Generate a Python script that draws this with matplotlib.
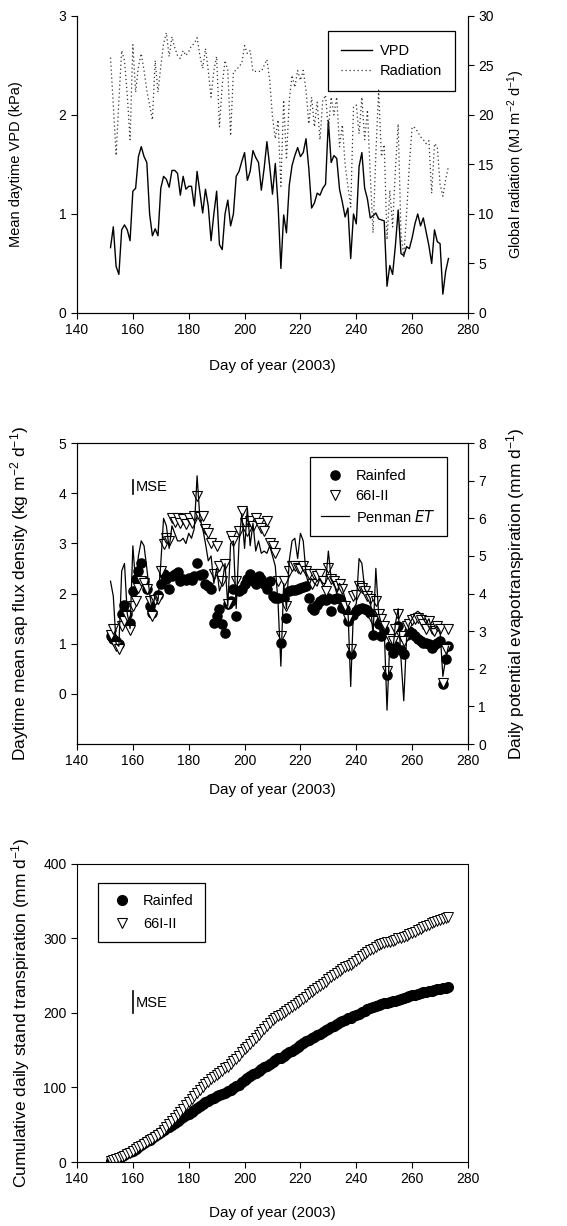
import numpy as np
import matplotlib
matplotlib.use("Agg")
import matplotlib.pyplot as plt
from matplotlib.lines import Line2D

plt.rcParams['font.family'] = ['Liberation Sans', 'DejaVu Sans']
plt.rcParams['font.size'] = 10
plt.rcParams['mathtext.default'] = 'regular'

# day of year, 1 June - 30 Sept 2003
days = np.arange(152, 274)

# panel a: mean daytime VPD (kPa) and global radiation (MJ m-2 d-1)
vpd = [0.66, 0.87, 0.47, 0.39, 0.84, 0.89, 0.84, 0.73, 1.23, 1.26,
       1.58, 1.68, 1.58, 1.52, 1.00, 0.78, 0.85, 0.78, 1.26, 1.38,
       1.35, 1.27, 1.44, 1.44, 1.41, 1.19, 1.38, 1.25, 1.28, 1.28,
       1.08, 1.43, 1.22, 1.01, 1.25, 1.08, 0.73, 1.00, 1.23, 0.69,
       0.64, 1.00, 1.14, 0.88, 1.00, 1.38, 1.43, 1.53, 1.62, 1.34,
       1.43, 1.64, 1.57, 1.52, 1.24, 1.46, 1.73, 1.48, 1.20, 1.51,
       1.09, 0.45, 0.99, 0.81, 1.29, 1.49, 1.59, 1.67, 1.58, 1.62,
       1.76, 1.46, 1.06, 1.11, 1.21, 1.19, 1.26, 1.30, 1.94, 1.52,
       1.59, 1.56, 1.25, 1.12, 0.97, 1.06, 0.55, 1.00, 0.90, 1.48,
       1.62, 1.26, 1.15, 0.96, 0.98, 1.01, 0.95, 0.94, 0.93, 0.27,
       0.48, 0.39, 0.68, 1.04, 0.60, 0.58, 0.67, 0.65, 0.76, 0.90,
       1.00, 0.88, 0.96, 0.82, 0.68, 0.50, 0.84, 0.72, 0.70, 0.19,
       0.42, 0.55]
radiation = [25.8, 21.0, 15.9, 21.5, 26.5, 25.5, 22.0, 17.5, 27.1, 22.3,
             24.9, 26.2, 24.5, 22.5, 21.0, 19.5, 25.5, 22.3, 24.9, 27.2,
             28.3, 25.9, 27.9, 26.8, 26.0, 25.7, 26.5, 26.0, 26.4, 27.0,
             27.2, 27.8, 26.0, 24.7, 26.7, 24.5, 21.8, 24.5, 25.9, 18.8,
             23.0, 25.5, 24.5, 17.9, 24.4, 24.5, 24.9, 25.2, 27.0, 26.2,
             26.5, 24.4, 24.4, 24.4, 24.4, 25.0, 25.6, 23.5, 19.8, 17.6,
             19.5, 12.8, 21.5, 15.5, 21.5, 24.0, 22.8, 24.5, 23.5, 24.5,
             22.5, 19.1, 21.8, 18.8, 21.3, 17.5, 21.5, 22.0, 18.5, 21.8,
             20.0, 21.8, 16.8, 19.0, 15.0, 12.8, 10.7, 20.8, 21.0, 18.1,
             21.8, 17.5, 20.5, 14.0, 8.1, 16.0, 22.5, 15.8, 17.0, 7.4,
             12.4, 8.7, 14.5, 19.1, 8.0, 5.7, 10.0, 15.0, 18.8, 18.7,
             18.3, 17.8, 17.5, 17.1, 17.4, 12.1, 17.1, 16.8, 13.0, 11.8,
             13.5, 14.8]

# panel b: daytime mean sap flux density (kg m-2 d-1) and Penman ET (mm d-1)
rainfed = [1.16, 1.10, 1.05, 1.00, 1.60, 1.78, 1.60, 1.42, 2.05, 2.30,
           2.45, 2.60, 2.25, 2.10, 1.75, 1.62, 1.90, 1.97, 2.20, 2.40,
           2.30, 2.10, 2.35, 2.40, 2.42, 2.25, 2.30, 2.28, 2.32, 2.28,
           2.36, 2.60, 2.38, 2.40, 2.20, 2.15, 2.10, 1.42, 1.55, 1.70,
           1.40, 1.22, 1.80, 1.85, 2.10, 1.55, 2.05, 2.10, 2.20, 2.30,
           2.40, 2.25, 2.20, 2.35, 2.30, 2.20, 2.10, 2.25, 1.95, 1.92,
           1.92, 1.02, 1.92, 1.52, 2.05, 2.07, 2.08, 2.10, 2.12, 2.14,
           2.16, 1.92, 1.72, 1.68, 1.78, 1.85, 1.90, 1.88, 1.92, 1.65,
           1.90, 1.92, 1.90, 1.72, 1.70, 1.45, 0.80, 1.58, 1.65, 1.70,
           1.72, 1.70, 1.68, 1.62, 1.18, 1.50, 1.40, 1.15, 1.28, 0.37,
           0.95, 0.82, 0.95, 1.35, 0.88, 0.80, 1.18, 1.25, 1.22, 1.15,
           1.10, 1.05, 1.02, 1.02, 1.00, 0.92, 0.97, 1.02, 1.05, 0.20,
           0.70, 0.96]
irrigated = [1.18, 1.30, 0.95, 0.90, 1.35, 1.45, 1.55, 1.27, 1.75, 1.85,
             2.12, 2.25, 2.22, 2.10, 1.85, 1.55, 1.88, 1.90, 2.45, 2.98,
             3.10, 3.05, 3.50, 3.42, 3.50, 3.40, 3.48, 3.38, 3.50, 3.40,
             3.55, 3.95, 3.52, 3.55, 3.28, 3.20, 3.00, 2.40, 2.95, 2.55,
             2.25, 2.58, 1.80, 3.15, 3.05, 2.25, 3.25, 3.65, 3.40, 3.25,
             3.45, 3.35, 3.50, 3.40, 3.30, 3.25, 3.45, 3.00, 2.95, 2.80,
             2.25, 1.15, 2.25, 1.75, 2.45, 2.55, 2.55, 2.50, 2.48, 2.55,
             2.45, 2.40, 2.20, 2.40, 2.35, 2.40, 2.25, 2.05, 2.50, 2.30,
             2.25, 2.15, 2.20, 2.10, 1.75, 1.50, 0.90, 1.95, 1.98, 2.15,
             2.12, 2.05, 1.95, 1.90, 1.45, 1.85, 1.60, 1.50, 1.35, 0.45,
             1.10, 1.05, 1.30, 1.60, 1.15, 1.05, 1.35, 1.40, 1.48, 1.50,
             1.52, 1.48, 1.40, 1.30, 1.45, 1.30, 1.25, 1.35, 1.30, 0.22,
             0.90, 1.30]
penman = [4.33, 3.93, 2.67, 2.60, 4.60, 4.80, 3.47, 3.07, 5.27, 4.27,
          5.00, 5.40, 5.27, 4.67, 4.00, 3.53, 4.00, 3.80, 4.80, 6.00,
          5.80, 5.20, 5.80, 5.60, 5.40, 5.40, 5.47, 5.33, 5.60, 5.47,
          5.73, 7.13, 6.00, 5.73, 5.33, 4.87, 5.00, 4.27, 4.67, 4.07,
          4.27, 4.80, 3.67, 5.33, 5.40, 3.60, 5.33, 6.13, 5.20, 6.27,
          5.27, 5.87, 5.13, 5.40, 5.07, 5.13, 5.07, 5.27, 5.00, 4.73,
          3.73, 2.07, 4.27, 3.60, 4.87, 5.40, 5.47, 4.93, 5.60, 5.40,
          4.53, 4.20, 4.40, 4.27, 4.20, 4.40, 4.27, 4.27, 5.13, 4.40,
          4.27, 4.00, 4.27, 4.13, 3.87, 3.60, 1.53, 3.60, 3.73, 4.93,
          4.80, 4.13, 4.00, 3.87, 2.87, 4.67, 3.47, 3.20, 3.07, 0.90,
          2.67, 2.40, 3.20, 3.60, 2.27, 1.15, 2.80, 3.20, 3.33, 3.47,
          3.53, 3.47, 3.33, 3.20, 3.33, 3.07, 3.07, 3.13, 3.00, 1.80,
          2.27, 2.60]

# panel c: cumulative daily stand transpiration (mm)
cum_rainfed = [1.0, 2.5, 4.0, 5.5, 7.5, 9.5, 11.5, 13.2, 15.0, 17.5,
               20.0, 22.8, 25.5, 28.0, 30.0, 32.0, 34.5, 37.0, 40.0, 42.5,
               45.0, 47.5, 50.0, 52.5, 55.0, 57.5, 60.0, 62.5, 65.0, 67.5,
               70.0, 72.8, 75.5, 78.0, 80.5, 82.5, 84.5, 86.0, 88.0, 90.0,
               91.5, 93.0, 95.0, 97.0, 99.5, 101.5, 104.0, 107.0, 110.0, 112.5,
               115.0, 117.5, 120.0, 122.5, 125.0, 127.5, 129.5, 132.0, 134.0, 136.5,
               139.0, 140.2, 142.7, 144.5, 147.0, 149.5, 152.0, 154.5, 157.0, 159.5,
               162.0, 164.0, 166.0, 168.0, 170.0, 172.2, 174.4, 176.6, 178.8, 180.8,
               183.0, 185.2, 187.4, 189.3, 191.2, 192.8, 193.7, 195.5, 197.3, 199.2,
               201.0, 202.9, 204.7, 206.5, 207.8, 209.4, 210.8, 212.0, 213.3, 213.7,
               214.7, 215.6, 216.6, 218.0, 218.9, 219.7, 221.0, 222.3, 223.6, 224.6,
               225.6, 226.6, 227.5, 228.4, 229.3, 230.1, 231.0, 231.9, 232.8, 233.0,
               233.6, 234.3]
cum_irrigated = [1.0, 2.5, 3.8, 5.1, 6.8, 8.6, 10.6, 12.5, 14.8, 17.0,
                 19.5, 22.0, 24.5, 27.0, 29.0, 31.0, 33.5, 36.0, 39.0, 42.5,
                 46.5, 50.5, 54.8, 59.0, 63.2, 67.5, 71.8, 76.0, 80.5, 84.5,
                 88.5, 93.0, 97.0, 101.0, 104.5, 108.0, 111.0, 113.5, 116.5, 119.5,
                 122.0, 125.5, 128.0, 132.0, 135.5, 138.5, 142.5, 147.0, 151.0, 155.0,
                 159.0, 163.0, 167.0, 171.0, 175.0, 179.0, 183.0, 187.0, 190.5, 193.5,
                 196.0, 197.5, 200.0, 202.0, 204.8, 207.6, 210.4, 213.2, 216.0, 219.0,
                 222.0, 225.0, 227.8, 230.8, 233.6, 236.6, 239.2, 242.2, 245.0, 248.0,
                 250.8, 253.6, 256.4, 259.0, 261.4, 263.4, 264.8, 267.4, 270.0, 273.0,
                 276.0, 278.8, 281.6, 284.4, 286.2, 288.6, 290.6, 292.4, 294.0, 294.6,
                 295.8, 296.9, 298.3, 300.0, 301.2, 302.3, 303.8, 305.4, 307.0, 309.0,
                 311.0, 313.0, 314.8, 316.6, 318.4, 320.2, 321.8, 323.6, 325.4, 325.8,
                 327.0, 328.6]

xticks = [140, 160, 180, 200, 220, 240, 260, 280]
xlabel = 'Day of year (2003)'
LEGFS = 10.5

fig = plt.figure(figsize=(5.67, 12.26), dpi=100)
L, W = 0.1358, 0.6896
ax1 = fig.add_axes([L, 0.7447, W, 0.2423])
ax2 = fig.add_axes([L, 0.3931, W, 0.2455])
ax3 = fig.add_axes([L, 0.0522, W, 0.2431])


def style(ax):
    ax.tick_params(direction='out', length=4, width=0.8, labelsize=10)
    for s in ax.spines.values():
        s.set_linewidth(0.8)


def box(leg):
    leg.get_frame().set_linewidth(0.9)


# ---- panel 1
ax1r = ax1.twinx()
ax1.plot(days, vpd, color='black', lw=1.0)
ax1r.plot(days, radiation, color='#333333', lw=0.9, linestyle=(0, (1, 2.2)))
ax1.set_xlim(140, 280)
ax1.set_ylim(0, 3)
ax1r.set_ylim(0, 30)
ax1.set_xticks(xticks)
ax1.set_yticks([0, 1, 2, 3])
ax1r.set_yticks([0, 5, 10, 15, 20, 25, 30])
ax1.spines['top'].set_visible(False)
ax1r.spines['top'].set_visible(False)
ax1.set_xlabel(xlabel, fontsize=11)
ax1.xaxis.set_label_coords(0.5, -0.155)
ax1.set_ylabel('Mean daytime VPD (kPa)', fontsize=10.5)
ax1.yaxis.set_label_coords(-0.138, 0.5)
ax1r.set_ylabel('Global radiation (MJ m$^{-2}$ d$^{-1}$)', fontsize=10.5)
ax1r.yaxis.set_label_coords(1.095, 0.5)
style(ax1)
style(ax1r)
h1 = [Line2D([], [], color='black', lw=1.0),
      Line2D([], [], color='#333333', lw=0.9, linestyle=(0, (1, 2.2)))]
leg = ax1.legend(h1, ['VPD', 'Radiation'], loc='upper right',
                 bbox_to_anchor=(0.967, 0.949), borderaxespad=0,
                 fancybox=False, framealpha=1, edgecolor='black',
                 fontsize=LEGFS, handlelength=2.1, handletextpad=0.55,
                 borderpad=0.9, labelspacing=0.38)
box(leg)

# ---- panel 2
ax2r = ax2.twinx()
ax2.plot(days, rainfed, 'o', color='black', ms=6.6, mec='black')
ax2.plot(days, irrigated, 'v', color='white', ms=6.8, mec='black', mew=0.8)
ax2r.plot(days, penman, color='black', lw=0.9)
ax2.set_xlim(140, 280)
ax2.set_ylim(-1, 5)
ax2r.set_ylim(0, 8)
ax2.set_xticks(xticks)
ax2.set_yticks([0, 1, 2, 3, 4, 5])
ax2r.set_yticks(range(0, 9))
ax2.set_xlabel(xlabel, fontsize=11)
ax2.xaxis.set_label_coords(0.5, -0.13)
ax2.set_ylabel('Daytime mean sap flux density (kg m$^{-2}$ d$^{-1}$)', fontsize=12.5)
ax2.yaxis.set_label_coords(-0.118, 0.5)
ax2r.set_ylabel('Daily potential evapotranspiration (mm d$^{-1}$)', fontsize=12.5)
ax2r.yaxis.set_label_coords(1.093, 0.5)
style(ax2)
style(ax2r)
ax2.plot([160, 160], [3.98, 4.27], color='black', lw=1.2)
ax2.text(161.2, 4.12, 'MSE', va='center', ha='left', fontsize=10.5)
h2 = [Line2D([], [], marker='o', ls='none', color='black', ms=6.6),
      Line2D([], [], marker='v', ls='none', color='white', mec='black', ms=6.8, mew=0.8),
      Line2D([], [], color='black', lw=0.9)]
leg = ax2.legend(h2, ['Rainfed', '66I-II', 'Penman $\\it{ET}$'], loc='upper right',
                 bbox_to_anchor=(0.946, 0.953), borderaxespad=0,
                 fancybox=False, framealpha=1, edgecolor='black',
                 fontsize=LEGFS, handlelength=1.9, handletextpad=0.45,
                 borderpad=0.8, labelspacing=0.4)
box(leg)

# ---- panel 3
ax3.plot(days, cum_rainfed, 'o', color='black', ms=7, mec='black')
ax3.plot(days, cum_irrigated, 'v', color='white', ms=6.6, mec='black', mew=0.7)
ax3.set_xlim(140, 280)
ax3.set_ylim(0, 400)
ax3.set_xticks(xticks)
ax3.set_yticks([0, 100, 200, 300, 400])
ax3.set_xlabel(xlabel, fontsize=11)
ax3.xaxis.set_label_coords(0.5, -0.148)
ax3.set_ylabel('Cumulative daily stand transpiration (mm d$^{-1}$)', fontsize=12.5)
ax3.yaxis.set_label_coords(-0.115, 0.5)
style(ax3)
ax3.tick_params(right=False, top=False)
ax3.plot([160, 160], [200, 230], color='black', lw=1.2)
ax3.text(161.2, 214, 'MSE', va='center', ha='left', fontsize=10.5)
h3 = [Line2D([], [], marker='o', ls='none', color='black', ms=7),
      Line2D([], [], marker='v', ls='none', color='white', mec='black', ms=6.6, mew=0.8)]
leg = ax3.legend(h3, ['Rainfed', '66I-II'], loc='upper left',
                 bbox_to_anchor=(0.054, 0.936), borderaxespad=0,
                 fancybox=False, framealpha=1, edgecolor='black',
                 fontsize=LEGFS, handlelength=1.8, handletextpad=0.5,
                 borderpad=0.77, labelspacing=0.58)
box(leg)

fig.savefig('out.png', dpi=100)
